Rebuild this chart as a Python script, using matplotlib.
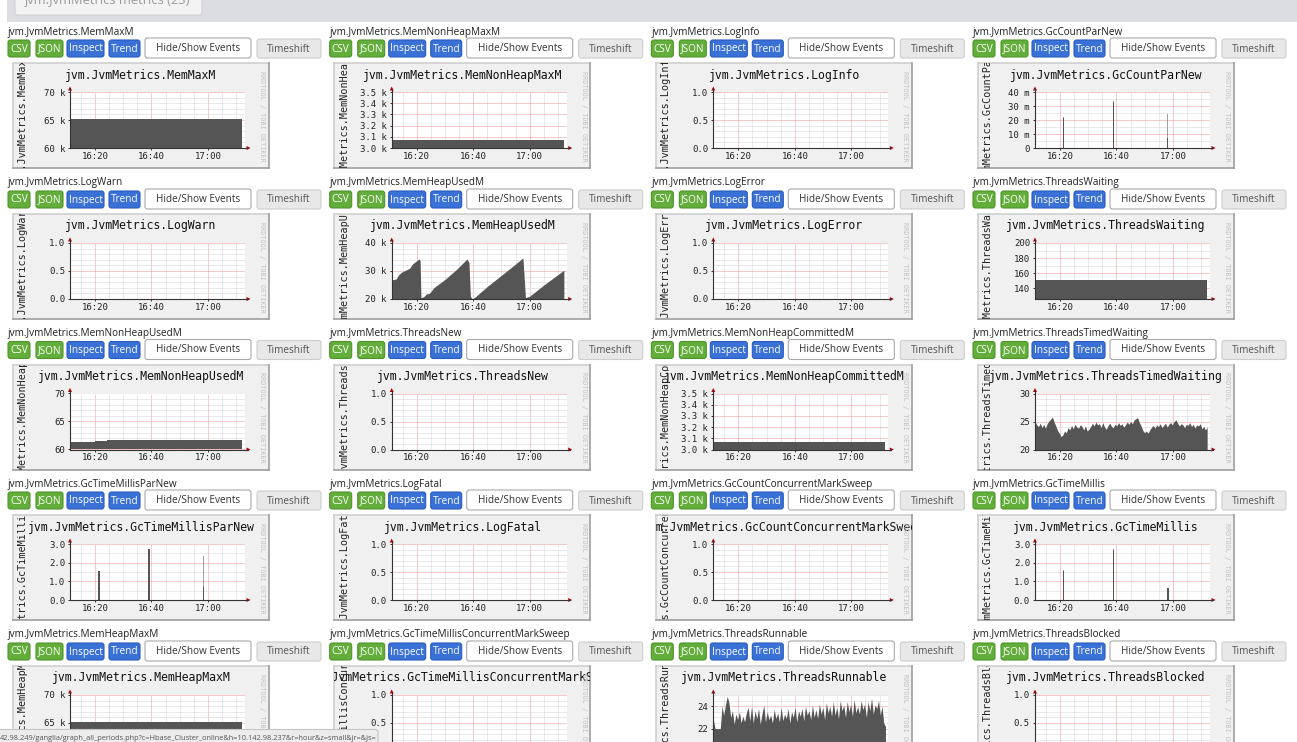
import numpy as np
import matplotlib
matplotlib.use("Agg")
import matplotlib.pyplot as plt
from matplotlib.patches import FancyBboxPatch, Rectangle, Polygon

W, H = 1297, 742
plt.rcParams["font.family"] = ["DejaVu Sans Mono"]

# ---------------- data ----------------
prefix = "jvm.JvmMetrics."
metric_names = [
    "MemMaxM", "MemNonHeapMaxM", "LogInfo", "GcCountParNew",
    "LogWarn", "MemHeapUsedM", "LogError", "ThreadsWaiting",
    "MemNonHeapUsedM", "ThreadsNew", "MemNonHeapCommittedM", "ThreadsTimedWaiting",
    "GcTimeMillisParNew", "LogFatal", "GcCountConcurrentMarkSweep", "GcTimeMillis",
    "MemHeapMaxM", "GcTimeMillisConcurrentMarkSweep", "ThreadsRunnable", "ThreadsBlocked",
]
page_tab = "jvm.JvmMetrics metrics (23)"
status_url = ("42.98.249/ganglia/graph_all_periods.php?c=Hbase_Cluster_online"
              "&h=10.142.98.237&r=hour&z=small&jr=&js=")
button_labels = ["CSV", "JSON", "Inspect", "Trend", "Hide/Show Events", "Timeshift"]
rrd_credit = "RRDTOOL / TOBI OETIKER"

# time axis (minutes after 16:00)
time_ticks = [20, 40, 60]
time_labels = ["16:20", "16:40", "17:00"]
time_minor = [15, 25, 30, 35, 45, 50, 55, 65, 70]
time_view = [11.15, 73.1]
data_span = [11.15, 72.1]

# y-axis tick values / labels
mem_ticks = [60000, 65000, 70000];            mem_labels = ["60 k", "65 k", "70 k"]
nh_ticks = [3000, 3100, 3200, 3300, 3400, 3500]
nh_labels = ["3.0 k", "3.1 k", "3.2 k", "3.3 k", "3.4 k", "3.5 k"]
unit_ticks = [0.0, 0.5, 1.0];                unit_labels = ["0.0", "0.5", "1.0"]
gcc_ticks = [0.0, 0.01, 0.02, 0.03, 0.04];   gcc_labels = ["0", "10 m", "20 m", "30 m", "40 m"]
heap_ticks = [20000, 30000, 40000];          heap_labels = ["20 k", "30 k", "40 k"]
wait_ticks = [140, 160, 180, 200];           wait_labels = ["140", "160", "180", "200"]
nhu_ticks = [60, 65, 70];                    nhu_labels = ["60", "65", "70"]
ttw_ticks = [20, 25, 30];                    ttw_labels = ["20", "25", "30"]
gct_ticks = [0.0, 1.0, 2.0, 3.0];            gct_labels = ["0.0", "1.0", "2.0", "3.0"]
run_ticks = [20, 22, 24];                    run_labels = ["20", "22", "24"]

# flat series (value held over the whole hour)
mem_max_value = 65150
mem_nonheap_max_value = 3070
mem_nonheap_committed_value = 3070
threads_waiting_value = 151.5
mem_heap_max_value = 65150

# MemNonHeapUsedM (step changes)
nonheap_used_t = [11.15, 20.0, 24.3, 72.1]
nonheap_used_v = [61.28, 61.57, 61.74, 61.74]

# MemHeapUsedM (sawtooth)
heap_used_t = [11.15, 12.8, 13.5, 14.5, 16.3, 17.5, 18.5, 20.8, 21.2, 21.5, 22.5, 23.4,
               24.5, 26.0, 30.0, 34.0, 37.8, 38.5, 39.0, 39.7, 41.0, 45.0, 50.0, 55.0,
               57.6, 58.5, 60.0, 65.0, 72.1]
heap_used_v = [26800, 27200, 28500, 29500, 30400, 31000, 32500, 34300, 33800, 20500, 20800,
               21800, 22000, 24000, 27000, 30500, 34300, 33000, 21000, 20000, 21000, 24500,
               28500, 32500, 34700, 20500, 21000, 25000, 30300]

# GC spikes: time, peak value, body value
gc_count_t = [21.2, 38.9, 58.0]
gc_count_peak = [0.0224, 0.0334, 0.0245]
gc_count_body = [0.0215, 0.0330, 0.0075]

gc_parnew_t = [21.4, 39.1, 58.3]
gc_parnew_peak = [1.63, 2.78, 2.34]
gc_parnew_body = [1.55, 2.72, 0.69]

gc_time_t = [21.3, 39.0, 58.2]
gc_time_peak = [1.62, 2.75, 2.22]
gc_time_body = [1.55, 2.70, 0.62]

# ThreadsTimedWaiting samples (evenly spaced over the data span)
threads_timed_waiting = [
    25.0, 24.4, 24.1, 24.7, 23.9, 24.5, 23.8, 24.6, 25.1, 25.4,
    25.8, 24.9, 24.2, 23.4, 22.9, 22.3, 22.6, 23.3, 23.0, 23.9,
    23.5, 24.3, 23.7, 24.5, 24.0, 23.8, 24.4, 24.1, 23.5, 24.2,
    23.3, 23.6, 24.1, 24.7, 24.2, 24.9, 24.4, 24.6, 23.9, 24.8,
    24.0, 23.6, 24.3, 24.7, 24.1, 23.9, 24.5, 24.2, 24.8, 24.3,
    24.6, 24.0, 24.4, 24.9, 24.5, 25.0, 24.6, 25.3, 25.5, 25.7,
    24.8, 24.2, 23.4, 23.0, 23.3, 22.9, 23.5, 24.0, 24.3, 23.8,
    24.4, 24.1, 24.6, 23.9, 24.3, 24.7, 24.0, 24.5, 24.8, 24.4,
    25.0, 25.3, 24.7, 24.2, 24.6, 24.4, 23.9, 24.5, 24.3, 24.8,
    24.1, 24.5, 23.8, 24.4, 24.2, 24.6, 23.7, 24.1, 23.5, 24.0,
]

# ThreadsRunnable samples
threads_runnable = [
    22.8, 22.0, 22.0, 22.0, 22.0, 24.0, 23.2, 24.1, 24.9, 24.3,
    23.0, 23.6, 22.4, 23.3, 22.8, 23.5, 22.5, 23.1, 22.6, 23.4,
    23.9, 22.7, 24.0, 22.5, 23.6, 22.9, 23.8, 22.4, 23.3, 24.1,
    22.6, 23.5, 22.8, 23.2, 22.5, 23.7, 22.9, 23.4, 22.6, 23.9,
    22.7, 23.3, 22.9, 23.8, 22.5, 23.5, 23.0, 23.9, 22.6, 23.6,
    23.1, 23.8, 22.7, 24.0, 23.2, 23.6, 22.8, 24.1, 23.0, 23.7,
    22.9, 24.2, 23.3, 23.9, 22.8, 24.3, 23.4, 24.0, 23.1, 24.4,
    23.2, 23.9, 22.9, 24.5, 23.6, 24.1, 23.0, 24.4, 23.5, 24.2,
    23.1, 24.6, 23.4, 24.0, 23.3, 24.5, 23.7, 24.2, 23.0, 24.4,
    23.6, 24.7, 23.3, 24.1, 23.8, 24.5, 23.2, 24.0, 22.5, 22.2,
]

# ---------------- per-graph configuration ----------------
# name: (ymin, ymax, ticks, labels, minor step, kind, payload)
graph_cfg = {
    "MemMaxM": (60000, 70000, mem_ticks, mem_labels, 1000, "flat", mem_max_value),
    "MemNonHeapMaxM": (3000, 3500, nh_ticks, nh_labels, None, "flat", mem_nonheap_max_value),
    "LogInfo": (0, 1, unit_ticks, unit_labels, 0.1, "empty", None),
    "GcCountParNew": (0, 0.04, gcc_ticks, gcc_labels, 0.005, "spikes",
                      (gc_count_t, gc_count_peak, gc_count_body)),
    "LogWarn": (0, 1, unit_ticks, unit_labels, 0.1, "empty", None),
    "MemHeapUsedM": (20000, 40000, heap_ticks, heap_labels, 2000, "line",
                     (heap_used_t, heap_used_v)),
    "LogError": (0, 1, unit_ticks, unit_labels, 0.1, "empty", None),
    "ThreadsWaiting": (126, 200, wait_ticks, wait_labels, 10, "flat", threads_waiting_value),
    "MemNonHeapUsedM": (60, 70, nhu_ticks, nhu_labels, 1, "step",
                        (nonheap_used_t, nonheap_used_v)),
    "ThreadsNew": (0, 1, unit_ticks, unit_labels, 0.1, "empty", None),
    "MemNonHeapCommittedM": (3000, 3500, nh_ticks, nh_labels, None, "flat",
                             mem_nonheap_committed_value),
    "ThreadsTimedWaiting": (20, 30, ttw_ticks, ttw_labels, 1, "samples", threads_timed_waiting),
    "GcTimeMillisParNew": (0, 3, gct_ticks, gct_labels, 0.5, "spikes",
                           (gc_parnew_t, gc_parnew_peak, gc_parnew_body)),
    "LogFatal": (0, 1, unit_ticks, unit_labels, 0.1, "empty", None),
    "GcCountConcurrentMarkSweep": (0, 1, unit_ticks, unit_labels, 0.1, "empty", None),
    "GcTimeMillis": (0, 3, gct_ticks, gct_labels, 0.5, "spikes",
                     (gc_time_t, gc_time_peak, gc_time_body)),
    "MemHeapMaxM": (60000, 70000, mem_ticks, mem_labels, 1000, "flat", mem_heap_max_value),
    "GcTimeMillisConcurrentMarkSweep": (0, 1, unit_ticks, unit_labels, 0.1, "empty", None),
    "ThreadsRunnable": (20, 25, run_ticks, run_labels, 0.5, "samples", threads_runnable),
    "ThreadsBlocked": (0, 1, unit_ticks, unit_labels, 0.1, "empty", None),
}

# ---------------- layout ----------------
col_x = [8, 329.7, 651.3, 973]
row_y = [32, 183, 333.5, 484, 635]
AREA = "#555555"
HTML_FONT = "Open Sans"

fig = plt.figure(figsize=(W / 100, H / 100), dpi=100)
fig.patch.set_facecolor("white")


def pixel_axes(z):
    a = fig.add_axes([0, 0, 1, 1], zorder=z)
    a.set_xlim(0, W)
    a.set_ylim(H, 0)
    a.axis("off")
    a.patch.set_visible(False)
    return a


bg = pixel_axes(0)
mid = pixel_axes(5)
top = pixel_axes(10)

# top gray band with tab
bg.add_patch(Rectangle((7, -2), W, 24, facecolor="#dcdde0", edgecolor="none"))
bg.add_patch(FancyBboxPatch((15, -8), 187, 23, boxstyle="round,pad=0,rounding_size=3",
                            facecolor="#f3f3f3", edgecolor="#d2d2d2", lw=0.8))
bg.text(25, 3.8, page_tab, family=HTML_FONT, fontsize=9.3, color="#9a9a9a",
        ha="left", va="baseline")

btn_geom = [(0, 22, 8, 25), (28, 55, 8, 25), (59, 96, 8, 25), (101, 132, 8, 25),
            (137, 243, 6, 26), (249, 313, 7, 26)]
btn_face = ["#63ad3b", "#63ad3b", "#3a71d7", "#3a71d7", "#ffffff", "#e8e8e8"]
btn_edge = ["#4f952b", "#4f952b", "#2a5bbd", "#2a5bbd", "#a9a9a9", "#cdcdcd"]
btn_tc = ["white", "white", "white", "white", "#333333", "#555555"]


def fill_series(ax, kind, payload, ylo):
    if kind == "flat":
        ax.fill_between(data_span, ylo, [payload, payload], color=AREA, lw=0)
    elif kind == "step":
        t, v = payload
        ax.fill_between(t, ylo, v, step="post", color=AREA, lw=0)
    elif kind == "line":
        t, v = payload
        ax.fill_between(t, ylo, v, color=AREA, lw=0)
    elif kind == "spikes":
        t, peak, body = payload
        ax.bar(t, peak, width=0.28, bottom=ylo, color=AREA, alpha=0.55, lw=0)
        ax.bar(t, body, width=0.45, bottom=ylo, color=AREA, lw=0)
    elif kind == "samples":
        v = np.asarray(payload, dtype=float)
        tt = np.linspace(data_span[0], data_span[1], len(v))
        ax.fill_between(tt, ylo, v, color=AREA, lw=0)


for idx, name in enumerate(metric_names):
    r, c = divmod(idx, 4)
    x0, y0 = col_x[c], row_y[r]
    full = prefix + name

    # header + buttons
    bg.text(x0, y0, full, family=HTML_FONT, fontsize=7.2, color="#222222",
            ha="left", va="center")
    for lbl, (a, b, t0, t1), fc, ec, tc in zip(button_labels, btn_geom, btn_face, btn_edge, btn_tc):
        bg.add_patch(FancyBboxPatch((x0 + a, y0 + t0), b - a, t1 - t0,
                                    boxstyle="round,pad=0,rounding_size=2.5",
                                    facecolor=fc, edgecolor=ec, lw=0.8))
        bg.text(x0 + (a + b) / 2, y0 + (t0 + t1) / 2 + 0.5, lbl, family=HTML_FONT,
                fontsize=7.2, color=tc, ha="center", va="center")

    # rrd image frame
    ix, iy, iw, ih = x0 + 4.5, y0 + 31, 256, 105
    img = Rectangle((ix, iy), iw, ih, facecolor="#f0f0f0", edgecolor="none")
    bg.add_patch(img)
    bg.plot([ix, ix + iw], [iy, iy], color="#cfcfcf", lw=1.2)
    bg.plot([ix, ix], [iy, iy + ih], color="#cfcfcf", lw=1.2)
    bg.plot([ix + iw, ix + iw], [iy, iy + ih], color="#9e9e9e", lw=1.2)
    bg.plot([ix, ix + iw], [iy + ih, iy + ih], color="#9e9e9e", lw=1.2)

    t = bg.text(x0 + 133, y0 + 43, full, fontsize=8.3, color="#111111",
                ha="center", va="center", clip_on=True)
    t.set_clip_path(img)
    t = bg.text(x0 + 14, y0 + 88, full, fontsize=7.3, color="#222222", rotation=90,
                ha="center", va="center", clip_on=True)
    t.set_clip_path(img)
    bg.text(x0 + 254, y0 + 84, rrd_credit, fontsize=4.9, color="#c2c2c2", rotation=270,
            ha="center", va="center")

    # plot area
    ymin, ymax, ticks, labels, mstep, kind, payload = graph_cfg[name]
    ax = fig.add_axes([(x0 + 62) / W, 1 - (y0 + 116) / H, 175 / W, 56 / H], zorder=2)
    ax.set_facecolor("white")
    ax.set_xlim(*time_view)
    ax.set_ylim(ymin, ymax)
    for s in ax.spines.values():
        s.set_visible(False)
    ax.set_xticks(time_ticks, time_labels)
    ax.set_xticks(time_minor, minor=True)
    ax.set_yticks(ticks, labels)
    if mstep is not None:
        first = np.ceil(ymin / mstep - 1e-6) * mstep
        ax.set_yticks(np.arange(first, ymax + mstep / 2, mstep), minor=True)
    ax.set_axisbelow(True)
    ax.grid(which="minor", color="#d4d4d4", lw=0.72, ls=(0, (1, 1)))
    ax.grid(which="major", color="#f09595", lw=0.72, ls=(0, (1, 1)))
    ax.tick_params(axis="y", which="major", length=1.6, width=0.7, color="#333333",
                   pad=2.0, labelsize=6.5, labelcolor="#222222")
    ax.tick_params(axis="x", which="major", length=1.6, width=0.7, color="#333333",
                   pad=1.0, labelsize=6.5, labelcolor="#222222")
    ax.tick_params(which="minor", length=0)
    fill_series(ax, kind, payload, ymin)

    # axes lines with arrows
    ox, oy = x0 + 62, y0 + 116
    mid.plot([ox, ox], [oy, y0 + 57], color="#333333", lw=0.8)
    mid.plot([ox, x0 + 240], [oy, oy], color="#333333", lw=0.8)
    mid.add_patch(Polygon([[ox - 2, y0 + 58.5], [ox + 2, y0 + 58.5], [ox, y0 + 54.5]],
                          closed=True, facecolor="#b00000", edgecolor="none"))
    mid.add_patch(Polygon([[x0 + 238.5, oy - 2], [x0 + 238.5, oy + 2], [x0 + 242.5, oy]],
                          closed=True, facecolor="#b00000", edgecolor="none"))

# status bar
top.add_patch(FancyBboxPatch((-5, 729.5), 383, 20, boxstyle="round,pad=0,rounding_size=3",
                             facecolor="#ececec", edgecolor="#c4c4c4", lw=0.8))
top.text(0, 738, status_url, family=HTML_FONT, fontsize=5.3, color="#555555",
         ha="left", va="center")

fig.savefig("out.png", dpi=100, facecolor="white")
